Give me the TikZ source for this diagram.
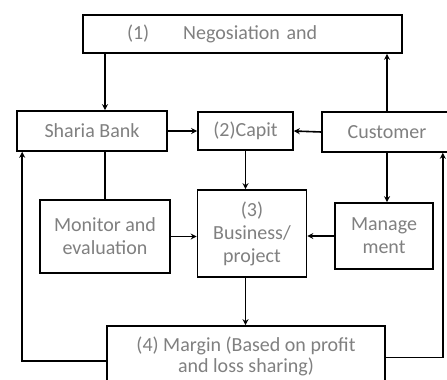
\documentclass[tikz,border=0pt]{standalone}
\usepackage{fontspec}
\setmainfont{Carlito}
\usepackage{tikz}
\usetikzlibrary{arrows.meta}

\begin{document}
\begin{tikzpicture}[x=1pt,y=-1pt,
  box/.style={draw,line width=1.6pt,inner sep=3pt,align=center,text=black!50,
    font=\fontsize{20}{23}\selectfont},
  arr/.style={line width=1.6pt,-{Stealth[length=6pt,width=6pt]}},
  ln/.style={line width=1.6pt}]
\clip (0,0) rectangle (447,380);
\fill[white] (0,0) rectangle (447,380);

\node[box,minimum width=319,minimum height=38,text width=311,align=left] (nego) at (242.5,34) {\hspace*{40pt}(1)\hspace{34pt}Negosiation and};

\node[box,minimum width=150,minimum height=40] (bank) at (92,131) {Sharia Bank};
\node[box,minimum width=95,minimum height=38] (capit) at (245.5,131) {(2)Capit};
\node[box,minimum width=130,minimum height=40] (cust) at (387,132) {Customer};

\node[box,minimum width=130,minimum height=73] (monit) at (105,236.5) {Monitor and\\evaluation};
\node[box,minimum width=109,minimum height=87] (busi) at (252,233.5) {(3)\\Business/\\project};
\node[box,minimum width=98,minimum height=66] (manag) at (384,236) {Manage\\ment};

\node[box,minimum width=278,minimum height=61,font=\fontsize{20}{21}\selectfont] (margin) at (246,356.5) {(4) Margin (Based on profit\\and loss sharing)};

% top row
\draw[arr] (nego.south -| monit.north) -- (bank.north -| monit.north);
\draw[arr] (cust.north) -- (cust.north |- nego.south);
\draw[arr] (bank.east) -- (capit.west);
\draw[arr] (cust.west) -- (capit.east);

% middle
\draw[arr] (capit.south) -- (capit.south |- busi.north);
\draw[ln] (bank.south -| monit.north) -- (monit.north);
\draw[arr] (monit.east) -- (monit.east -| busi.west);
\draw[arr] (manag.west) -- (manag.west -| busi.east);
\draw[arr] (cust.south) -- (cust.south |- manag.north);
\draw[arr] (capit.south |- busi.south) -- (capit.south |- margin.north);

% return loops
\coordinate (lup) at ([xshift=6pt]bank.south west);
\coordinate (rup) at ([xshift=-10pt]cust.south east);
\draw[arr] ([yshift=-4.5pt]margin.west) -| (lup);
\draw[arr] ([yshift=-1pt]margin.east) -| (rup);

\end{tikzpicture}
\end{document}
